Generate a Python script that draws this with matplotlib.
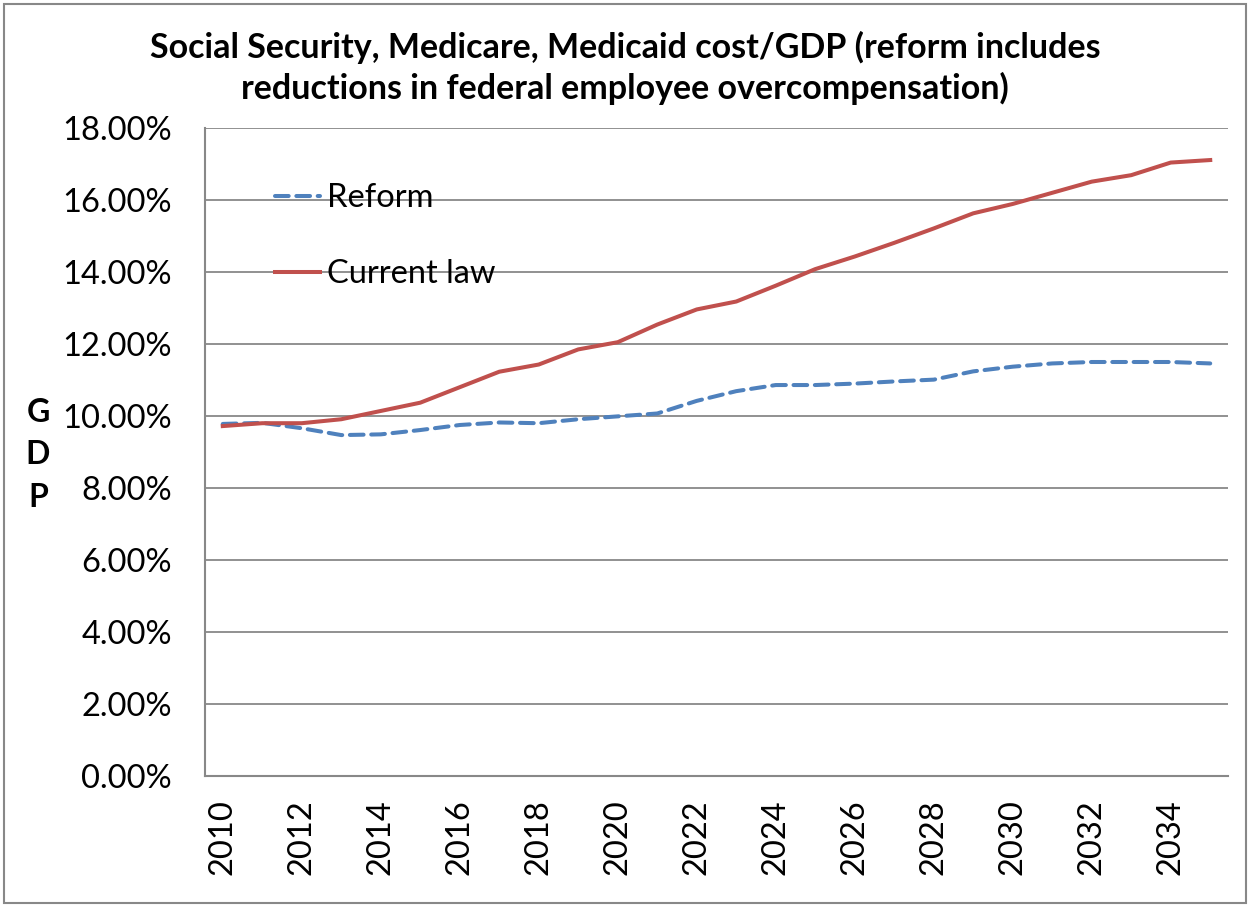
import matplotlib
matplotlib.use("Agg")
import matplotlib.pyplot as plt
from matplotlib.patches import Rectangle
from matplotlib.ticker import FuncFormatter

# ── Data (share of GDP, %) ────────────────────────────────────────────────────
years = list(range(2010, 2036))
reform = [9.78, 9.81, 9.66, 9.47, 9.49, 9.61, 9.75, 9.82, 9.80, 9.91,
          9.99, 10.07, 10.42, 10.69, 10.86, 10.86, 10.90, 10.96, 11.01, 11.24,
          11.37, 11.46, 11.50, 11.50, 11.50, 11.46]
current_law = [9.72, 9.80, 9.80, 9.91, 10.14, 10.37, 10.80, 11.23, 11.43, 11.85,
               12.05, 12.54, 12.96, 13.18, 13.62, 14.08, 14.43, 14.81, 15.21, 15.63,
               15.89, 16.20, 16.51, 16.69, 17.04, 17.11]
y_ticks = [0, 2, 4, 6, 8, 10, 12, 14, 16, 18]
x_ticks = years[::2]

TITLE = ("Social Security, Medicare, Medicaid cost/GDP (reform includes\n"
         "reductions in federal employee overcompensation)")

BLUE = "#4F81BD"
RED = "#C0504D"
GRID = "#888888"

plt.rcParams["font.family"] = ["Lato", "DejaVu Sans"]

W, H = 1250, 907
fig = plt.figure(figsize=(W / 100, H / 100), dpi=100)
ax = fig.add_axes([205 / W, 1 - 776 / H, (1228 - 205) / W, 648 / H])

ax.plot(years, reform, color=BLUE, lw=2.9, dashes=(3.4, 1.9),
        dash_capstyle="round", label="Reform", zorder=3)
ax.plot(years, current_law, color=RED, lw=2.9, label="Current law", zorder=3)

ax.set_xlim(2009.55, 2035.45)
ax.set_ylim(0, 18)
ax.set_yticks(y_ticks)
ax.yaxis.set_major_formatter(FuncFormatter(lambda v, _: f"{v:.2f}%"))
ax.set_xticks(x_ticks)
ax.set_xticklabels([str(y) for y in x_ticks], rotation=90)
ax.tick_params(axis="y", length=0, pad=24, labelsize=23.5)
ax.tick_params(axis="x", length=0, pad=17, labelsize=23.5)

ax.grid(axis="y", color=GRID, lw=1.3)
ax.set_axisbelow(True)
for side in ("top", "right"):
    ax.spines[side].set_visible(False)
for side in ("left", "bottom"):
    ax.spines[side].set_color(GRID)
    ax.spines[side].set_linewidth(1.5)

ax.legend(frameon=False, loc="upper left", bbox_to_anchor=(0.068, 0.915),
          fontsize=23.5, handlelength=1.4, handletextpad=0.2, labelspacing=1.42,
          borderaxespad=0, borderpad=0)

fig.text(0.5, 1 - 68 / H, TITLE, ha="center", va="center", fontsize=24.5,
         fontweight="bold", linespacing=1.3)
fig.text(38 / W, 1 - 455 / H, "G\nD\nP", ha="center", va="center",
         fontsize=23, fontweight="bold", linespacing=1.55)

# chart outer border
fig.patches.append(Rectangle((4 / W, 4 / H), 1 - 8 / W, 1 - 8 / H,
                             transform=fig.transFigure, fill=False,
                             edgecolor=GRID, lw=1.5))

fig.savefig("out.png", dpi=100)
